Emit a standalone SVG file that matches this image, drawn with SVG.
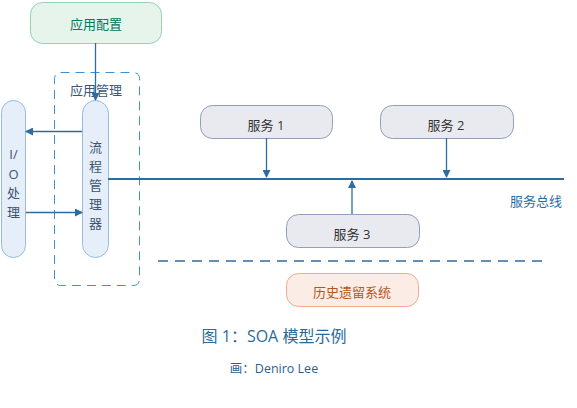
<svg xmlns="http://www.w3.org/2000/svg" width="577" height="408" viewBox="0 0 577 408">
<defs>
<marker id="ah" viewBox="0 0 8 8" refX="7" refY="4" markerWidth="8" markerHeight="8" markerUnits="userSpaceOnUse" orient="auto">
<path d="M0,0 L8,4 L0,8 Z" fill="#2c6ca0"/>
</marker>
<style>
text{font-family:"Open Sans","Noto Sans CJK SC",sans-serif;font-size:13px;text-anchor:middle;dominant-baseline:central}
.svc rect{fill:#e8eaef;stroke:#8fa0bb;stroke-width:1}
.svc text{fill:#333}
.ln{stroke:#2c6ca0;stroke-width:1.3;fill:none}
.pill{fill:#e6eef9;stroke:#97bbe5;stroke-width:1}
.vt{fill:#3b5573}
</style>
</defs>
<rect width="577" height="408" fill="#fff"/>
<g id="app-config">
<rect x="30.5" y="2.5" width="131" height="41" rx="12" fill="#e6f4ec" stroke="#96d1b3"/>
<text x="96" y="24" fill="#007a5e">应用配置</text>
</g>
<g id="app-manage">
<rect x="54.5" y="72.5" width="85" height="213" rx="6" fill="none" stroke="#3f8fd2" stroke-dasharray="9,6"/>
<text x="96" y="90" fill="#3b5573">应用管理</text>
</g>
<g id="io">
<rect class="pill" x="1.5" y="100.5" width="24" height="157" rx="12"/>
<text class="vt" x="13.5" y="154">I/</text>
<text class="vt" x="13.5" y="174">O</text>
<text class="vt" x="13.5" y="193">处</text>
<text class="vt" x="13.5" y="212">理</text>
</g>
<g id="flow-manager">
<rect class="pill" x="82.5" y="100.5" width="26" height="157" rx="13"/>
<text class="vt" x="95.5" y="147">流</text>
<text class="vt" x="95.5" y="166">程</text>
<text class="vt" x="95.5" y="185">管</text>
<text class="vt" x="95.5" y="204">理</text>
<text class="vt" x="95.5" y="223">器</text>
</g>
<g id="svc1" class="svc">
<rect x="200.5" y="105.5" width="132" height="33" rx="12"/>
<text x="266" y="125">服务 1</text>
</g>
<g id="svc2" class="svc">
<rect x="380.5" y="105.5" width="133" height="33" rx="12"/>
<text x="446" y="125">服务 2</text>
</g>
<g id="svc3" class="svc">
<rect x="286.5" y="214.5" width="133" height="33" rx="12"/>
<text x="352" y="234">服务 3</text>
</g>
<g id="legacy">
<rect x="286.5" y="273.5" width="132" height="33" rx="12" fill="#fcece6" stroke="#f4aa8c"/>
<text x="352" y="292" fill="#b5561e">历史遗留系统</text>
</g>
<g id="connectors">
<line class="ln" x1="95.5" y1="43" x2="95.5" y2="100" marker-end="url(#ah)"/>
<line class="ln" x1="82" y1="131.5" x2="26" y2="131.5" marker-end="url(#ah)"/>
<line class="ln" x1="26" y1="212.5" x2="82" y2="212.5" marker-end="url(#ah)"/>
<line x1="108" y1="179" x2="564" y2="179" stroke="#2c6ca0" stroke-width="2.2"/>
<line class="ln" x1="266.5" y1="138" x2="266.5" y2="177" marker-end="url(#ah)"/>
<line class="ln" x1="446.5" y1="138" x2="446.5" y2="177" marker-end="url(#ah)"/>
<line class="ln" x1="352" y1="214" x2="352" y2="181" marker-end="url(#ah)"/>
<line class="ln" x1="158" y1="261" x2="545" y2="261" stroke-dasharray="10,7"/>
</g>
<text x="536" y="201" fill="#2c6ca0">服务总线</text>
<text x="274" y="336" fill="#2c6a98" style="font-size:16px">图 1：SOA 模型示例</text>
<text x="274" y="368" fill="#2c5f8f" style="font-size:12.5px">画：Deniro Lee</text>
</svg>
